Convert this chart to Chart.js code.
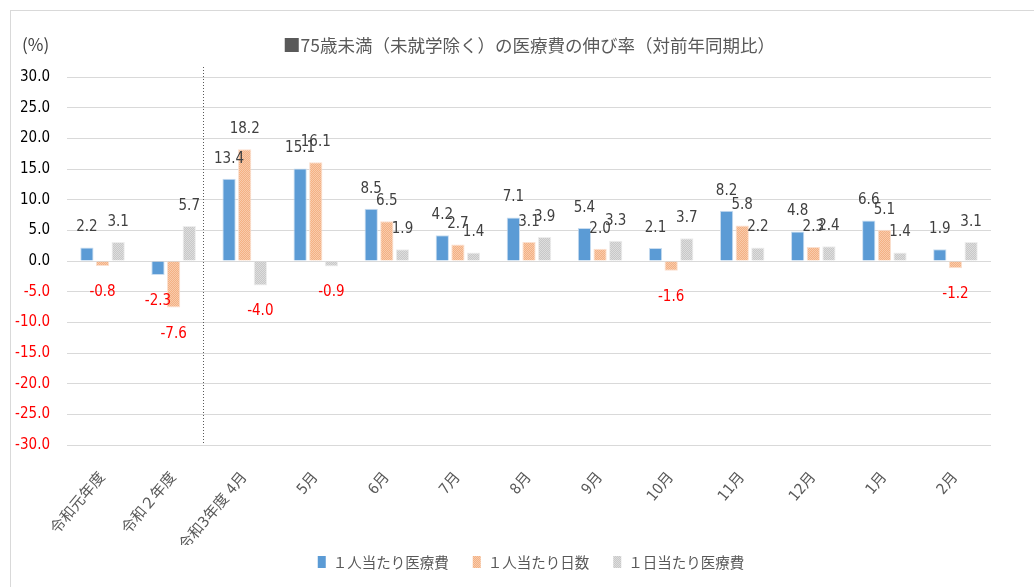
<!DOCTYPE html>
<html>
<head>
<meta charset="utf-8">
<script src="https://cdn.jsdelivr.net/npm/chart.js@4/dist/chart.umd.min.js"></script>
<style>
  html, body { margin: 0; padding: 0; background: #fff; }
  #wrap { position: relative; width: 1034px; height: 587px; overflow: hidden; }
  #frame { position: absolute; left: 10px; top: 10px; width: 1040px; height: 600px; border: 1px solid #d9d9d9; box-sizing: border-box; }
  #chart { position: absolute; left: 0; top: 0; }
</style>
</head>
<body>
<div id="wrap">
  <div id="frame"></div>
  <canvas id="chart" width="1034" height="587"></canvas>
</div>
<script>
const categories = ["令和元年度", "令和２年度", "令和3年度 4月", "5月", "6月", "7月", "8月", "9月", "10月", "11月", "12月", "1月", "2月"];
const perPersonCost = [2.2, -2.3, 13.4, 15.1, 8.5, 4.2, 7.1, 5.4, 2.1, 8.2, 4.8, 6.6, 1.9];
const perPersonDays = [-0.8, -7.6, 18.2, 16.1, 6.5, 2.7, 3.1, 2.0, -1.6, 5.8, 2.3, 5.1, -1.2];
const perDayCost = [3.1, 5.7, -4.0, -0.9, 1.9, 1.4, 3.9, 3.3, 3.7, 2.2, 2.4, 1.4, 3.1];
const seriesNames = ["１人当たり医療費", "１人当たり日数", "１日当たり医療費"];
const yTicks = { min: -30, max: 30, step: 5 };

const NUM_FONT = "'Liberation Sans Narrow', 'DejaVu Sans Condensed', 'Noto Sans CJK JP', sans-serif";
const JP_FONT = "'Noto Sans CJK JP', sans-serif";

function makePattern(c1, c2) {
  const p = document.createElement("canvas");
  p.width = 2;
  p.height = 2;
  const g = p.getContext("2d");
  g.fillStyle = c1;
  g.fillRect(0, 0, 2, 2);
  g.fillStyle = c2;
  g.fillRect(0, 0, 1, 1);
  g.fillRect(1, 1, 1, 1);
  return g.createPattern(p, "repeat");
}

const orangeFill = makePattern("#F4B183", "#F8CBAD");
const grayFill = makePattern("#C8C8C8", "#DDDDDD");

// labels, title, legend, divider line
const decorations = {
  id: "decorations",
  afterDatasetsDraw(chart) {
    const { ctx, chartArea, scales } = chart;
    ctx.save();

    // dotted divider between 令和2年度 and 令和3年度
    const xDiv = (scales.x.getPixelForValue(1) + scales.x.getPixelForValue(2)) / 2 - 6;
    ctx.strokeStyle = "#595959";
    ctx.lineWidth = 1;
    ctx.setLineDash([1, 2]);
    ctx.beginPath();
    ctx.moveTo(Math.round(xDiv) + 0.5, chartArea.top - 10);
    ctx.lineTo(Math.round(xDiv) + 0.5, chartArea.bottom);
    ctx.stroke();
    ctx.setLineDash([]);

    // value labels
    ctx.font = "15px " + NUM_FONT;
    ctx.textAlign = "center";
    ctx.textBaseline = "middle";
    chart.data.datasets.forEach((ds, i) => {
      const meta = chart.getDatasetMeta(i);
      meta.data.forEach((bar, j) => {
        const v = ds.data[j];
        if (v >= 0) {
          ctx.fillStyle = "#404040";
          ctx.fillText(v.toFixed(1), bar.x, bar.y - 20);
        } else {
          ctx.fillStyle = "#FF0000";
          ctx.fillText(v.toFixed(1), bar.x, bar.y + 26);
        }
      });
    });

    // title
    const cx = (chartArea.left + chartArea.right) / 2;
    ctx.font = "17.5px " + JP_FONT;
    ctx.fillStyle = "#595959";
    ctx.fillText("■75歳未満（未就学除く）の医療費の伸び率（対前年同期比）", cx, 45);

    // unit
    ctx.textAlign = "left";
    ctx.font = "17px " + JP_FONT;
    ctx.fillStyle = "#404040";
    ctx.fillText("(%)", 22, 45);

    // legend
    ctx.font = "14.5px " + JP_FONT;
    const fills = chart.data.datasets.map((d) => d.backgroundColor);
    const widths = seriesNames.map((n) => ctx.measureText(n).width);
    const boxW = 8, gapBox = 7, gapItem = 24;
    let total = 0;
    widths.forEach((w, i) => {
      total += boxW + gapBox + w + (i < widths.length - 1 ? gapItem : 0);
    });
    let x = cx - total / 2 + 2;
    const ly = 562;
    seriesNames.forEach((n, i) => {
      ctx.fillStyle = fills[i];
      ctx.fillRect(x, ly - 6, boxW, 12);
      ctx.fillStyle = "#595959";
      ctx.fillText(n, x + boxW + gapBox, ly);
      x += boxW + gapBox + widths[i] + gapItem;
    });

    ctx.restore();
  },
};

new Chart(document.getElementById("chart"), {
  type: "bar",
  data: {
    labels: categories,
    datasets: [
      { label: seriesNames[0], data: perPersonCost, backgroundColor: "#5B9BD5", borderColor: "#C9DDF0", borderWidth: 1 },
      { label: seriesNames[1], data: perPersonDays, backgroundColor: orangeFill, borderColor: "#FBE0CF", borderWidth: 1 },
      { label: seriesNames[2], data: perDayCost, backgroundColor: grayFill, borderColor: "#EDEDED", borderWidth: 1 },
    ],
  },
  options: {
    responsive: false,
    animation: false,
    devicePixelRatio: 1,
    layout: { padding: { left: 0, right: 43, top: 77, bottom: 42 } },
    datasets: { bar: { categoryPercentage: 0.66, barPercentage: 0.85 } },
    scales: {
      x: {
        grid: { display: false, drawTicks: false },
        border: { display: false },
        ticks: {
          color: "#595959",
          font: { size: 15, family: NUM_FONT },
          maxRotation: 50,
          minRotation: 50,
          padding: 24,
          autoSkip: false,
        },
        afterFit(axis) { axis.height = 100; },
      },
      y: {
        min: yTicks.min,
        max: yTicks.max,
        grid: { color: "#d9d9d9", drawTicks: false },
        border: { display: false },
        ticks: {
          stepSize: yTicks.step,
          padding: 17,
          font: { size: 15, family: NUM_FONT },
          color: (c) => (c.tick.value < 0 ? "#FF0000" : "#000000"),
          callback: (v) => v.toFixed(1),
        },
        afterFit(axis) { axis.width = 67; },
      },
    },
    plugins: {
      legend: { display: false },
      title: { display: false },
      tooltip: { enabled: false },
    },
  },
  plugins: [decorations],
});
</script>
</body>
</html>
